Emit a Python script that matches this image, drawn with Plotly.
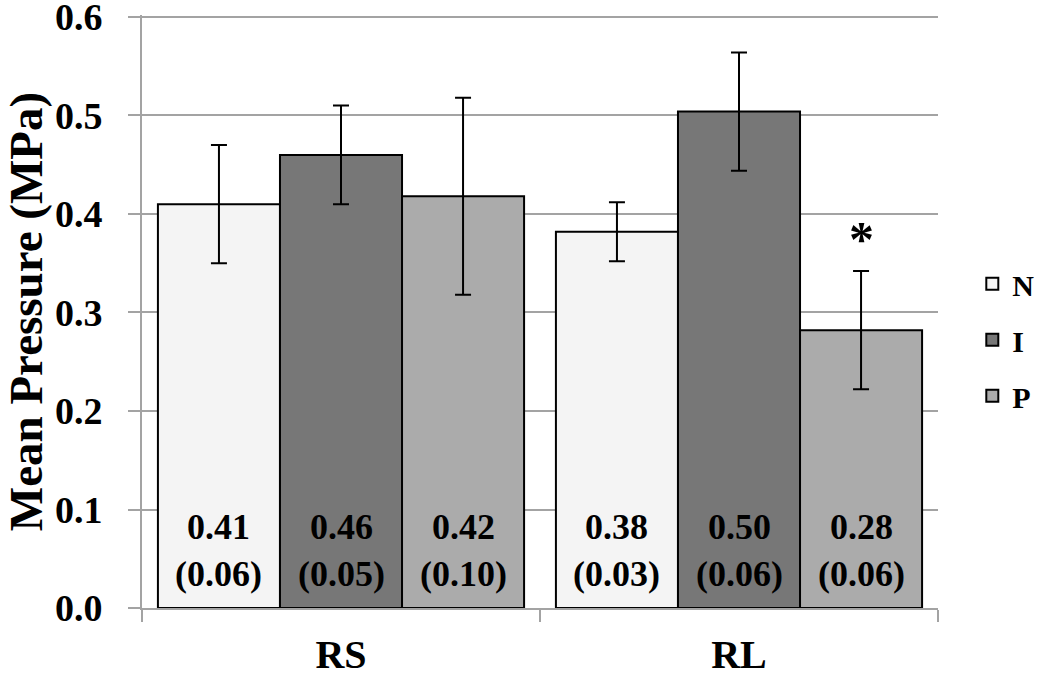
import plotly.graph_objects as go

categories = ["RS", "RL"]
series_names = ["N", "I", "P"]
means_N = [0.41, 0.382]
means_I = [0.46, 0.504]
means_P = [0.418, 0.282]
sd_N = [0.06, 0.03]
sd_I = [0.05, 0.06]
sd_P = [0.10, 0.06]
labels_N = ["0.41<br>(0.06)", "0.38<br>(0.03)"]
labels_I = ["0.46<br>(0.05)", "0.50<br>(0.06)"]
labels_P = ["0.42<br>(0.10)", "0.28<br>(0.06)"]
y_ticks = [0.0, 0.1, 0.2, 0.3, 0.4, 0.5, 0.6]
star_value = 0.375

colors = ["#f4f4f4", "#777777", "#ababab"]
FONT = "Liberation Serif"
grid_col = "#a3a3a3"

means = [means_N, means_I, means_P]
sds = [sd_N, sd_I, sd_P]
labels = [labels_N, labels_I, labels_P]

fig = go.Figure()
for i, name in enumerate(series_names):
    fig.add_trace(go.Bar(
        x=categories, y=means[i], name=name, legendgroup=name,
        marker=dict(color=colors[i], line=dict(color="black", width=2)),
        error_y=dict(type="data", array=sds[i], color="black", thickness=2, width=8),
    ))

# bar value labels (bottom of each bar)
ML, MR = 142, 112
plot_w = 1050 - ML - MR
cat_w = plot_w / len(categories)
bargap = 0.08
bar_w = cat_w * (1 - bargap) / 3
for i in range(3):
    for j, c in enumerate(categories):
        fig.add_annotation(
            x=c, y=0, xref="x", yref="y", text="<b>" + labels[i][j] + "</b>",
            showarrow=False, xshift=(i - 1) * bar_w, yanchor="bottom", yshift=12,
            font=dict(family=FONT, size=36, color="black"), align="center",
        )

fig.add_annotation(
    x="RL", y=star_value, xref="x", yref="y", text="<b>*</b>", showarrow=False,
    xshift=bar_w, yanchor="middle", font=dict(family=FONT, size=50, color="black"),
)

fig.update_layout(
    width=1050, height=677,
    margin=dict(l=ML, r=MR, t=15, b=69, autoexpand=False),
    paper_bgcolor="white", plot_bgcolor="white",
    barmode="group", bargap=bargap, bargroupgap=0,
    font=dict(family=FONT, color="black"),
    legend=dict(
        xref="container", yref="container",
        x=0.926, xanchor="left", y=0.498, yanchor="middle",
        font=dict(family=FONT, size=30, color="black", weight="bold"),
        tracegroupgap=14, traceorder="grouped", bgcolor="rgba(0,0,0,0)",
    ),
    showlegend=True,
)
fig.update_yaxes(
    range=[0, 0.602], tickvals=y_ticks, tickformat=".1f",
    showgrid=True, gridcolor=grid_col, gridwidth=2,
    showline=True, linecolor=grid_col, linewidth=2,
    ticks="outside", ticklen=12, tickcolor=grid_col, tickwidth=2,
    ticklabelstandoff=18, ticklabeloverflow="allow", automargin=False,
    tickfont=dict(family=FONT, size=38, color="black", weight="bold"),
    title=dict(text="Mean Pressure (MPa)", standoff=14,
               font=dict(family=FONT, size=47, color="black", weight="bold")),
    zeroline=False, fixedrange=True,
)
fig.update_xaxes(
    showline=True, linecolor=grid_col, linewidth=2,
    ticks="outside", tickson="boundaries", ticklen=12, tickcolor=grid_col, tickwidth=2,
    ticklabelstandoff=10, automargin=False,
    tickfont=dict(family=FONT, size=40, color="black", weight="bold"),
    showgrid=False, fixedrange=True,
)

fig.write_html("out.html", config={"displayModeBar": False},
               post_script="document.body.style.margin='0';")
